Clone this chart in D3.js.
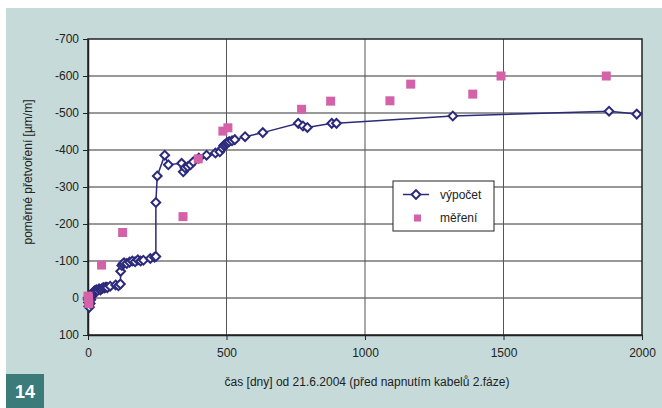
<!DOCTYPE html>
<html>
<head>
<meta charset="utf-8">
<script src="https://cdn.jsdelivr.net/npm/d3@7"></script>
<style>
  body { margin: 0; background: #fff; }
  text { font-family: "Liberation Sans", Arial, sans-serif; }
</style>
</head>
<body>
<script>
const WIDTH = 662;
const HEIGHT = 408;

// výpočet: days, strain
const calcDays = [0, 1, 2, 3, 5, 8, 10, 14, 18, 22, 25, 30, 35, 40, 45, 50, 55, 60, 65, 70, 80, 100, 110, 117, 118, 122, 126, 130, 140, 150, 160, 170, 180, 190, 200, 225, 240, 245, 245, 250, 277, 290, 338, 344, 350, 360, 370, 380, 400, 428, 460, 476, 485, 490, 495, 500, 505, 510, 520, 530, 567, 631, 759, 776, 792, 880, 897, 1317, 1881, 1981];
const calcVals = [0, 5, 12, 22, 25, 15, 5, -5, -12, -18, -20, -22, -20, -25, -22, -25, -28, -27, -30, -28, -32, -35, -33, -38, -72, -88, -92, -95, -93, -97, -100, -98, -103, -100, -102, -107, -110, -112, -258, -330, -386, -360, -364, -341, -352, -355, -360, -368, -378, -386, -392, -395, -405, -412, -415, -418, -420, -423, -425, -428, -436, -447, -472, -465, -461, -472, -472, -492, -505, -497];

// měření: days, strain
const measDays = [0, 2, 3, 49, 125, 343, 398, 487, 505, 771, 876, 1090, 1165, 1389, 1491, 1871];
const measVals = [-5, 0, 15, -89, -177, -220, -376, -451, -460, -510, -532, -533, -578, -551, -600, -600];

const xTicks = [0, 500, 1000, 1500, 2000];
const yTicks = [-700, -600, -500, -400, -300, -200, -100, 0, 100];

const NAVY = '#2c2a7c';
const PINK = '#d462a8';

const svg = d3.select('body')
    .append('svg')
    .attr('width', WIDTH)
    .attr('height', HEIGHT);

// teal panel
svg.append('rect')
    .attr('x', 6).attr('y', 8)
    .attr('width', WIDTH - 6).attr('height', HEIGHT - 8)
    .attr('fill', '#c6dad9');

// figure number badge
svg.append('rect')
    .attr('x', 6).attr('y', 374)
    .attr('width', 38).attr('height', 34)
    .attr('fill', '#3b7b79');
svg.append('text')
    .attr('x', 25).attr('y', 398)
    .attr('text-anchor', 'middle')
    .attr('fill', '#fff')
    .attr('font-size', '18px')
    .attr('font-weight', 'bold')
    .text('14');

const x = d3.scaleLinear().domain([0, 2000]).range([88, 642]);
const y = d3.scaleLinear().domain([100, -700]).range([335, 39]);

// plot area
svg.append('rect')
    .attr('x', x(0)).attr('y', y(-700))
    .attr('width', x(2000) - x(0)).attr('height', y(100) - y(-700))
    .attr('fill', '#fff');

// grid
svg.append('g')
    .selectAll('line')
    .data(yTicks.slice(1, -1))
    .join('line')
    .attr('x1', x(0)).attr('x2', x(2000))
    .attr('y1', d => y(d)).attr('y2', d => y(d))
    .attr('stroke', '#333')
    .attr('stroke-width', 1);
svg.append('g')
    .selectAll('line')
    .data(xTicks.slice(1, -1))
    .join('line')
    .attr('x1', d => x(d)).attr('x2', d => x(d))
    .attr('y1', y(-700)).attr('y2', y(100))
    .attr('stroke', '#555')
    .attr('stroke-width', 1);

// axes (plain hyphen minus, no thousands separator)
const fmt = d => String(d);
const yAxis = svg.append('g')
    .attr('transform', `translate(${x(0)},0)`)
    .call(d3.axisLeft(y).tickValues(yTicks).tickFormat(fmt).tickSize(5).tickPadding(4).tickSizeOuter(0));
const xAxis = svg.append('g')
    .attr('transform', `translate(0,${y(100)})`)
    .call(d3.axisBottom(x).tickValues(xTicks).tickFormat(fmt).tickSize(5).tickPadding(8).tickSizeOuter(0));
[yAxis, xAxis].forEach(a => {
    a.selectAll('text').attr('font-size', '12px').attr('fill', '#222')
        .attr('font-family', '"Liberation Sans", Arial, sans-serif');
    a.selectAll('line').attr('stroke', '#222');
    a.select('.domain').attr('stroke', '#222').attr('stroke-width', 1.5);
});

// plot frame
svg.append('rect')
    .attr('x', x(0)).attr('y', y(-700))
    .attr('width', x(2000) - x(0)).attr('height', y(100) - y(-700))
    .attr('fill', 'none')
    .attr('stroke', '#222')
    .attr('stroke-width', 1.5);

// computed line
const calc = calcDays.map((d, i) => [d, calcVals[i]]);
svg.append('path')
    .datum(calc)
    .attr('d', d3.line().x(d => x(d[0])).y(d => y(d[1])))
    .attr('fill', 'none')
    .attr('stroke', NAVY)
    .attr('stroke-width', 1.5);

const diamond = d3.symbol().type(d3.symbolSquare).size(38);
svg.append('g')
    .selectAll('path')
    .data(calc)
    .join('path')
    .attr('d', diamond)
    .attr('transform', d => `translate(${x(d[0])},${y(d[1])}) rotate(45)`)
    .attr('fill', '#fff')
    .attr('stroke', NAVY)
    .attr('stroke-width', 2);

// measured squares (on top)
svg.append('g')
    .selectAll('rect')
    .data(measDays.map((d, i) => [d, measVals[i]]))
    .join('rect')
    .attr('x', d => x(d[0]) - 4.5)
    .attr('y', d => y(d[1]) - 4.5)
    .attr('width', 9).attr('height', 9)
    .attr('fill', PINK);

// legend
const legend = svg.append('g').attr('transform', 'translate(393,181)');
legend.append('rect')
    .attr('width', 101).attr('height', 50)
    .attr('fill', '#fff')
    .attr('stroke', '#222')
    .attr('stroke-width', 1);
legend.append('line')
    .attr('x1', 10).attr('x2', 36)
    .attr('y1', 13.5).attr('y2', 13.5)
    .attr('stroke', NAVY).attr('stroke-width', 1.5);
legend.append('path')
    .attr('d', diamond)
    .attr('transform', 'translate(23,13.5) rotate(45)')
    .attr('fill', '#fff').attr('stroke', NAVY).attr('stroke-width', 2);
legend.append('rect')
    .attr('x', 21).attr('y', 33.5)
    .attr('width', 7).attr('height', 7)
    .attr('fill', PINK);
legend.append('text')
    .attr('x', 47).attr('y', 18)
    .attr('font-size', '12px').attr('fill', '#222')
    .text('výpočet');
legend.append('text')
    .attr('x', 47).attr('y', 41)
    .attr('font-size', '12px').attr('fill', '#222')
    .text('měření');

// axis titles
svg.append('text')
    .attr('x', 367).attr('y', 386)
    .attr('text-anchor', 'middle')
    .attr('font-size', '12px').attr('fill', '#222')
    .text('čas [dny] od 21.6.2004 (před napnutím kabelů 2.fáze)');
svg.append('text')
    .attr('transform', 'translate(32,172) rotate(-90)')
    .attr('text-anchor', 'middle')
    .attr('font-size', '12px').attr('fill', '#222')
    .text('poměrné přetvoření [µm/m]');
</script>
</body>
</html>
